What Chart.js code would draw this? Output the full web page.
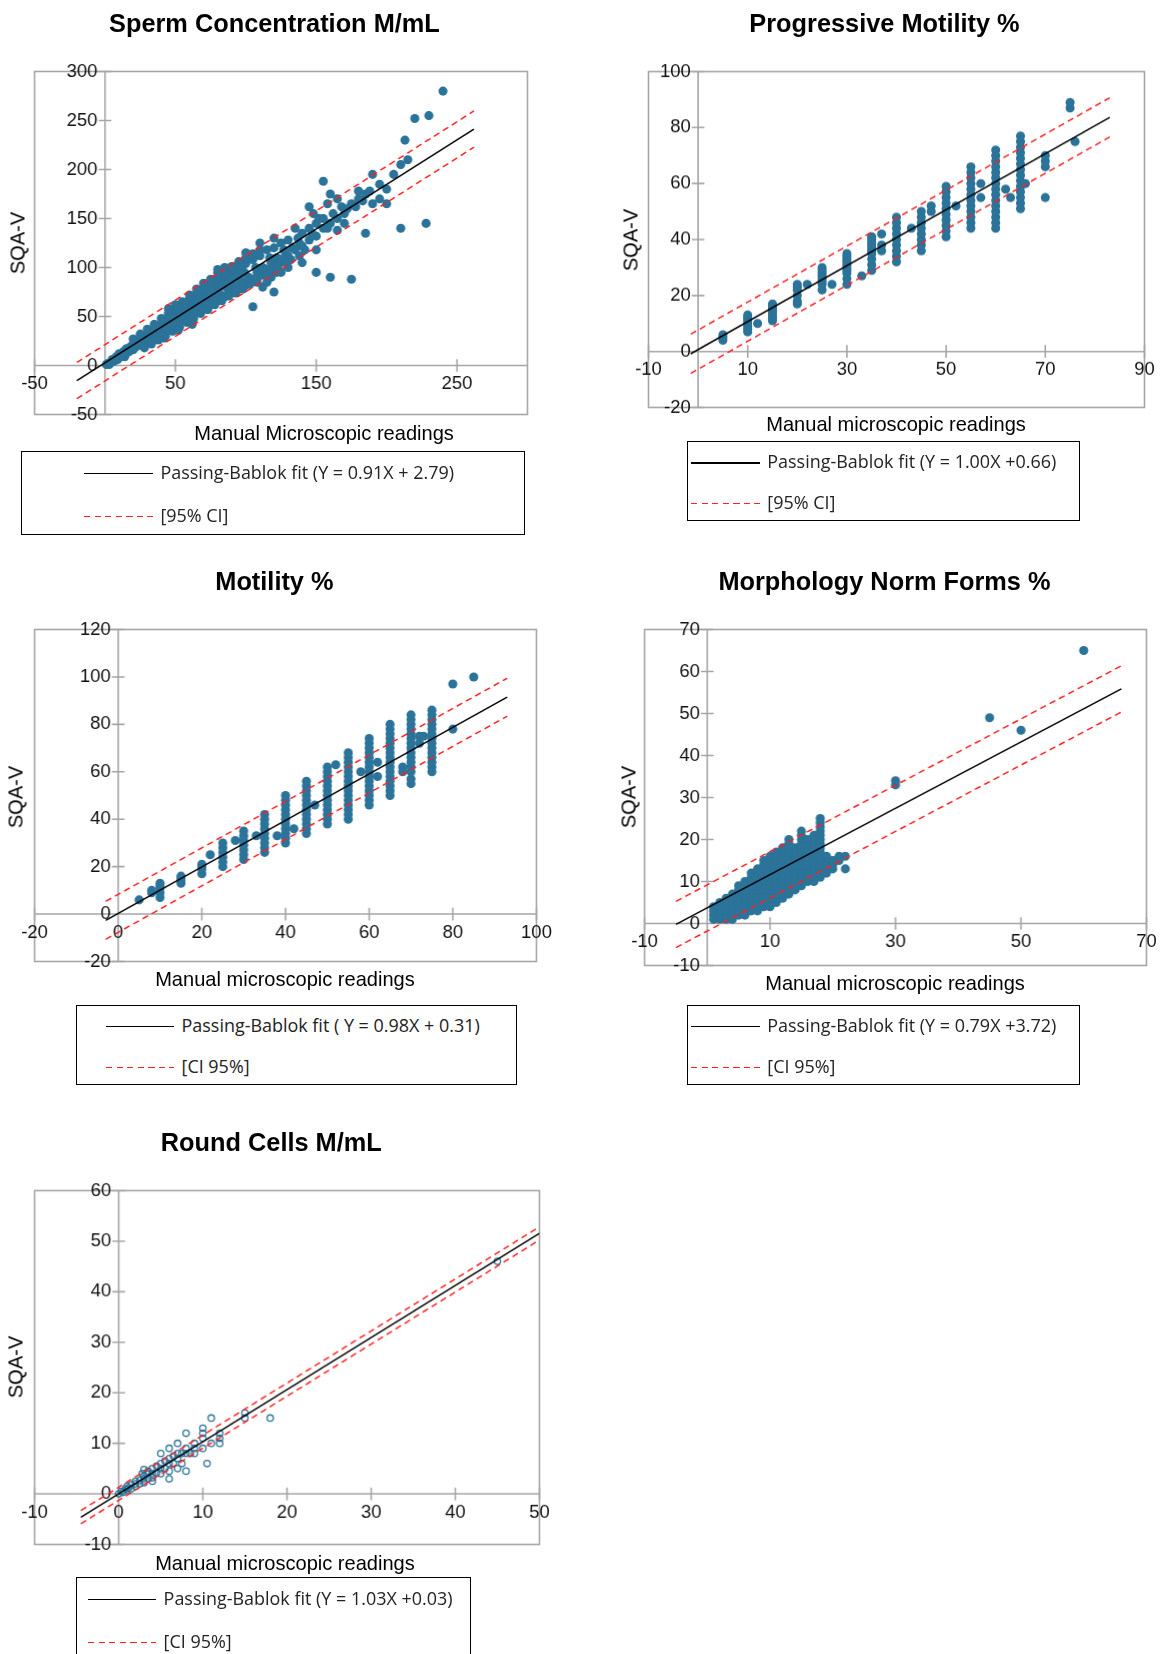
<!DOCTYPE html>
<html><head><meta charset="utf-8">
<script src="https://cdn.jsdelivr.net/npm/chart.js@4.4.1/dist/chart.umd.min.js"></script>
<style>
body{margin:0;background:#fff;width:1161px;height:1654px;overflow:hidden;position:relative;font-family:"Liberation Sans",Arial,sans-serif}
.abs{position:absolute}
.lg{position:absolute;border:1.3px solid #000;box-sizing:border-box;background:#fff}
</style></head><body>
<script>
// ---- data ----
const concPoints = [[1,1],[2,2],[3,1],[4,3],[5,6],[6,4],[7,5],[8,9],[9,6],[10,8],[10,12],[11,11],[12,10],[13,14],[14,9],[15,12],[15,17],[16,15],[17,14],[18,19],[19,17],[20,16],[20,22],[21,18],[22,19],[23,25],[24,22],[25,21],[25,27],[26,23],[27,24],[28,30],[29,27],[30,25],[30,32],[31,30],[32,28],[33,35],[34,31],[35,29],[35,37],[36,34],[37,33],[38,40],[39,36],[40,33],[40,42],[41,39],[42,37],[43,45],[44,41],[45,38],[45,48],[46,44],[47,42],[48,50],[49,46],[50,42],[50,53],[51,49],[52,46],[53,56],[54,51],[55,47],[55,58],[56,53],[57,51],[58,61],[59,56],[60,50],[60,63],[61,58],[62,55],[63,66],[64,61],[65,55],[65,68],[66,63],[67,60],[68,71],[69,65],[70,58],[70,74],[71,68],[72,64],[73,77],[74,70],[75,62],[75,80],[76,73],[77,68],[78,83],[79,76],[80,66],[80,86],[81,79],[82,72],[83,88],[84,82],[85,70],[85,90],[86,85],[87,78],[88,93],[89,86],[90,75],[90,96],[91,89],[92,82],[93,98],[94,90],[95,78],[95,100],[96,93],[97,86],[99,95],[100,82],[100,104],[102,90],[105,88],[105,108],[108,95],[110,92],[110,112],[112,100],[115,98],[115,118],[118,105],[120,102],[120,120],[122,110],[125,108],[125,125],[128,115],[130,112],[130,128],[133,120],[135,118],[138,125],[140,122],[140,135],[145,128],[145,140],[150,132],[150,145],[155,140],[155,150],[160,145],[158,165],[165,150],[170,155],[170,145],[175,165],[180,170],[185,175],[190,165],[195,170],[190,195],[200,180],[205,195],[210,205],[215,210],[213,230],[220,252],[230,255],[240,280],[228,145],[148,155],[155,188],[165,170],[105,60],[108,85],[150,95],[160,90],[175,88],[120,75],[185,135],[200,165],[210,140],[195,185],[145,162],[160,175],[180,178],[135,140],[130,100],[100,115],[95,105],[110,125],[120,130],[90,88],[80,95],[85,100],[62,48],[72,58],[82,68],[92,76],[102,85],[112,95],[118,90],[128,105],[138,112],
[20,27],[25,32],[30,37],[35,42],[40,48],[45,53],[50,58],[55,63],[60,68],[65,73],[70,79],[75,85],[80,91],[85,96],[90,101],[95,106],[100,110],[105,114],[110,118],[28,18],[33,22],[38,26],[43,30],[48,35],[53,39],[58,44],[63,48],[68,53],[73,57],[78,62],[83,66],[88,71],[93,74],[98,78],[103,83],[108,88],[113,92],[118,97],[123,102],[55,65],[60,72],[65,78],[70,84],[75,88],[80,98],[45,58],[50,62],[112,80],[122,95],[132,108],[127,118],[117,110],[107,100],[97,98],[87,82],[77,75],[67,67],[57,58],[47,50],[37,39],[137,130],[142,118],[147,135],[152,150],[158,140],[162,155],[168,162],[172,160],[178,162],[183,168],[188,178],[165,138],[140,105],[150,118],[125,95],[115,85],[42,28],[52,36],[62,42]];
const progStripes = [[5,[4,5,6]],[10,[7,8,9,10,11,12,13]],[12,[10]],[15,[11,12,13,14,15,16,17]],[20,[17,18,20,22,23,24]],[22,[24]],[25,[22,24,25,26,27,28,29,30]],[27,[24]],[30,[24,26,28,29,30,31,32,33,34,35]],[33,[27]],[35,[29,31,33,35,36,37,38,39,40,41]],[37,[36,38,42]],[40,[32,34,36,38,40,42,44,46,48]],[43,[44]],[45,[36,38,40,42,44,46,48,50]],[47,[50,52]],[50,[41,43,45,47,49,51,53,55,57,59]],[52,[52]],[55,[44,46,48,50,52,54,56,58,60,62,64,66]],[57,[55,60]],[60,[44,46,48,50,52,54,56,58,60,62,64,66,68,70,72]],[62,[58]],[63,[55]],[65,[51,53,55,57,59,61,63,65,67,69,71,73,75,77]],[66,[60]],[70,[55,66,68,70]],[75,[87,89]],[76,[75]]];
const motStripes = [[5,[6]],[8,[9,10]],[10,[7,9,11,12,13]],[15,[13,14,15,16]],[20,[17,19,20,21]],[22,[25]],[25,[20,22,24,26,28,30]],[28,[31]],[30,[23,25,27,29,31,33,35]],[33,[33]],[35,[26,28,30,32,34,36,38,40,42]],[38,[33]],[40,[30,32,34,36,38,40,42,44,46,48,50]],[42,[36]],[45,[34,36,38,40,42,44,46,48,50,52,54,56]],[47,[46]],[50,[38,40,42,44,46,48,50,52,54,56,58,60,62]],[52,[63]],[55,[40,42,44,46,48,50,52,54,56,58,60,62,64,66,68]],[58,[60]],[60,[46,48,50,52,54,56,58,60,62,64,66,68,70,72,74]],[62,[58,64]],[65,[50,52,54,56,58,60,62,64,66,68,70,72,74,76,78,80]],[68,[60,62]],[70,[55,57,60,62,64,66,68,70,72,74,76,78,80,82,84]],[72,[72,75]],[73,[75]],[75,[60,62,64,66,68,70,72,74,76,78,80,82,84,86]],[80,[78,97]],[85,[100]]];
const morphStripes = [[1,[1,2,3,4]],[2,[1,2,3,4,5]],[3,[1,2,3,4,5,6]],[4,[1,2,3,4,5,6,7]],[5,[2,3,4,5,6,7,8,9]],[6,[2,3,4,5,6,7,8,9,10]],[7,[3,4,5,6,7,8,9,10,11,12]],[8,[3,4,5,6,7,8,9,10,11,12,13]],[9,[4,5,6,7,8,9,10,11,12,13,14,15]],[10,[4,5,6,7,8,9,10,11,12,13,14,15,16]],[11,[5,6,7,8,9,10,11,12,13,14,15,16,17]],[12,[6,7,8,9,10,11,12,13,14,15,16,17,18]],[13,[7,8,9,10,11,12,13,14,15,16,17,18,19,20]],[14,[8,9,10,11,12,13,14,15,16,17,18]],[15,[9,10,11,12,13,14,15,16,17,18,19,20,21,22]],[16,[10,11,12,13,14,15,16,17,18,19,20]],[17,[10,11,12,13,14,15,16,17,18,19,20,21]],[18,[11,12,13,14,15,16,17,18,19,20,21,22,23,24,25]],[19,[12,13,14,15,16]],[20,[13,14,15]],[21,[15,16]],[22,[13,16]],[30,[33,34]],[45,[49]],[50,[46]],[60,[65]]];
const roundPoints = [[0,0],[0.3,0.5],[0.5,0.3],[0.8,1],[1,0.8],[1,1.5],[1.2,1.2],[1.5,1.8],[1.5,1],[2,2],[2,2.5],[2,1.5],[2.5,2.7],[2.5,2],[3,3],[3,3.5],[3,2.2],[3.3,4],[3.5,3],[3.5,4.5],[4,4],[4,3.2],[4,5],[4.5,4.2],[4.5,5.5],[5,5],[5,4],[5,6],[5.5,6.5],[5.5,5],[6,6],[6,7],[6,4.5],[6.5,7.5],[6.5,6],[7,7],[7,8],[7,5],[7.5,8],[8,8],[8,9],[8,12],[8,4.5],[8.5,8],[9,9],[9,10],[10,11],[10,12],[10,13],[10,9],[10.5,6],[11,15],[11,10],[12,11],[12,12],[12,10],[15,15],[15,16],[18,15],[45,46],[5,8],[6,9],[4,2.5],[3,4.8],[7,10],[9,8],[2.8,4],[6,3],[7.5,6]];
const titles = ["Sperm Concentration M/mL","Progressive Motility %","Motility %","Morphology Norm Forms %","Round Cells M/mL"];
const xTitles = ["Manual Microscopic readings","Manual microscopic readings","Manual microscopic readings","Manual microscopic readings","Manual microscopic readings"];
const fitLabels = ["Passing-Bablok fit (Y = 0.91X + 2.79)","Passing-Bablok fit (Y = 1.00X +0.66)","Passing-Bablok fit ( Y = 0.98X + 0.31)","Passing-Bablok fit (Y = 0.79X +3.72)","Passing-Bablok fit (Y = 1.03X +0.03)"];
const ciLabels = ["[95% CI]","[95% CI]","[CI 95%]","[CI 95%]","[CI 95%]"];
const fitSlope = [0.91,1.00,0.98,0.79,1.03];
const fitIntercept = [2.79,0.66,0.31,3.72,0.03];
const ciHalfWidth = [18.5,7,8,5.5,1.3];
const fitRange = [[-20,262],[-1.5,83],[-3,93],[-5,66],[-4.5,50]];
const xTicks = [[-50,50,150,250],[-10,10,30,50,70,90],[-20,0,20,40,60,80,100],[-10,10,30,50,70],[-10,0,10,20,30,40,50]];
const yTicks = [[-50,0,50,100,150,200,250,300],[-20,0,20,40,60,80,100],[-20,0,20,40,60,80,100,120],[-10,0,10,20,30,40,50,60,70],[-10,0,10,20,30,40,50,60]];
const xRange = [[-50,300],[-10,90],[-20,100],[-10,70],[-10,50]];
const yRange = [[-50,300],[-20,100],[-20,120],[-10,70],[-10,60]];

// ---- layout (in 1100-wide units, scaled) ----
const S = 1161/1100;
const boxes = [[33,68,500,393],[614,68,1084,386],[33,596,508,911],[611,596,1086,915],[33,1128,511,1463]];
const titlePos = [[260,22],[838,22],[260,550],[838,550],[257,1082]];
const yTitlePos = [[17,230],[598,227],[15,755],[596,755],[15,1295]];
const xTitlePos = [[307,410],[849,402],[270,928],[848,931],[270,1481]];
const legBoxes = [[20,427,497,507,80],[651,418,1023,494,655],[72,952,490,1028,100],[651,952,1023,1028,655],[72,1494,446,1580,83]];
const BLUE = '#2b7399';

function stripesToPts(st){const o=[];st.forEach(([x,ys])=>ys.forEach(y=>o.push({x,y})));return o;}
const pts = [concPoints.map(([x,y])=>({x,y})), stripesToPts(progStripes), stripesToPts(motStripes), stripesToPts(morphStripes), roundPoints.map(([x,y])=>({x,y}))];

function addText(txt,x,y,size,bold,rot){
  const d=document.createElement('div');d.className='abs';d.textContent=txt;
  d.style.fontSize=(size*S)+'px';d.style.fontWeight=bold?'bold':'normal';d.style.whiteSpace='nowrap';
  d.style.left=(x*S)+'px';d.style.top=(y*S)+'px';
  d.style.transform='translate(-50%,-50%)'+(rot?' rotate(-90deg)':'');
  d.style.fontFamily='"Liberation Sans",Arial,sans-serif';
  document.body.appendChild(d);
}
function addLegend(i){
  const [l,t,r,b,lx]=legBoxes[i];
  const d=document.createElement('div');d.className='lg';
  d.style.left=(l*S)+'px';d.style.top=(t*S)+'px';d.style.width=((r-l)*S)+'px';d.style.height=((b-t)*S)+'px';
  document.body.appendChild(d);
  const h=b-t>80?80:(b-t);
  const rows=[[fitLabels[i],'#000'],[ciLabels[i],'repeating-linear-gradient(90deg,#ff2020 0 '+(6*S)+'px,transparent '+(6*S)+'px '+(10*S)+'px)']];
  rows.forEach((rw,k)=>{
    const yy=t+(k===0?0.26:0.77)*h;
    const ln=document.createElement('div');ln.className='abs';
    ln.style.left=(lx*S)+'px';ln.style.top=(yy*S)+'px';ln.style.width=(65*S)+'px';ln.style.height='1.5px';ln.style.background=rw[1];
    document.body.appendChild(ln);
    const tx=document.createElement('div');tx.className='abs';tx.textContent=rw[0];
    tx.style.left=((lx+72)*S)+'px';tx.style.top=(yy*S)+'px';tx.style.transform='translateY(-55%)';
    tx.style.fontSize=(17*S)+'px';tx.style.whiteSpace='nowrap';tx.style.fontFamily='"Open Sans","Liberation Sans",sans-serif';tx.style.color='#222';
    document.body.appendChild(tx);
  });
}

const PAD=45;
const axesPlugin={id:'axesP',
  beforeDatasetsDraw(ch){
    const i=ch.options.plugins.axesP.idx;const c=ch.ctx,a=ch.chartArea,xs=ch.scales.x,ys=ch.scales.y;
    c.save();c.strokeStyle='#a6a6a6';c.lineWidth=1.5*S;
    c.strokeRect(a.left,a.top,a.right-a.left,a.bottom-a.top);
    const x0=xs.getPixelForValue(0),y0=ys.getPixelForValue(0);
    c.beginPath();c.moveTo(a.left,y0);c.lineTo(a.right,y0);c.moveTo(x0,a.top);c.lineTo(x0,a.bottom);
    const tk=6*S;
    xTicks[i].forEach(v=>{const p=xs.getPixelForValue(v);c.moveTo(p,y0-tk);c.lineTo(p,y0+tk);});
    yTicks[i].forEach(v=>{const p=ys.getPixelForValue(v);c.moveTo(x0-tk,p);c.lineTo(x0+tk,p);});
    c.stroke();
    c.fillStyle='#111';c.font=(17.5*S)+'px "Liberation Sans",Arial,sans-serif';
    c.textAlign='center';c.textBaseline='top';
    xTicks[i].forEach(v=>{c.fillText(String(v),xs.getPixelForValue(v),y0+9*S);});
    c.textAlign='right';c.textBaseline='middle';
    yTicks[i].forEach(v=>{c.fillText(String(v),x0-7*S,ys.getPixelForValue(v));});
    c.restore();
  }};

for(let i=0;i<5;i++){
  const [l,t,r,b]=boxes[i];
  const cv=document.createElement('canvas');cv.className='abs';
  const W=(r-l+2*PAD)*S,H=(b-t+2*PAD)*S;
  cv.style.left=((l-PAD)*S)+'px';cv.style.top=((t-PAD)*S)+'px';
  cv.style.width=W+'px';cv.style.height=H+'px';cv.width=W;cv.height=H;
  document.body.appendChild(cv);
  const [f0,f1]=fitRange[i],m=fitSlope[i],q=fitIntercept[i],ci=ciHalfWidth[i];
  const line=(off)=>[{x:f0,y:m*f0+q+off},{x:f1,y:m*f1+q+off}];
  const hollow=i===4;
  new Chart(cv,{type:'scatter',
    data:{datasets:[
      {data:pts[i],pointRadius:(hollow?3:4.3)*S,pointBackgroundColor:hollow?'rgba(0,0,0,0)':BLUE,pointBorderColor:BLUE,pointBorderWidth:hollow?1.3:0,order:3},
      {type:'line',data:line(0),borderColor:'#000',borderWidth:1.4*S,pointRadius:0,order:1},
      {type:'line',data:line(ci),borderColor:'#ff2020',borderDash:[6*S,4*S],borderWidth:1.4*S,pointRadius:0,order:1},
      {type:'line',data:line(-ci),borderColor:'#ff2020',borderDash:[6*S,4*S],borderWidth:1.4*S,pointRadius:0,order:1}
    ]},
    options:{responsive:false,animation:false,events:[],layout:{padding:PAD*S},
      scales:{x:{type:'linear',min:xRange[i][0],max:xRange[i][1],display:false},y:{type:'linear',min:yRange[i][0],max:yRange[i][1],display:false}},
      plugins:{legend:{display:false},tooltip:{enabled:false},axesP:{idx:i}}},
    plugins:[axesPlugin]});
  addText(titles[i],titlePos[i][0],titlePos[i][1],24,true,false);
  addText('SQA-V',yTitlePos[i][0],yTitlePos[i][1],19,false,true);
  addText(xTitles[i],xTitlePos[i][0],xTitlePos[i][1],19,false,false);
  addLegend(i);
}
</script>
</body></html>
